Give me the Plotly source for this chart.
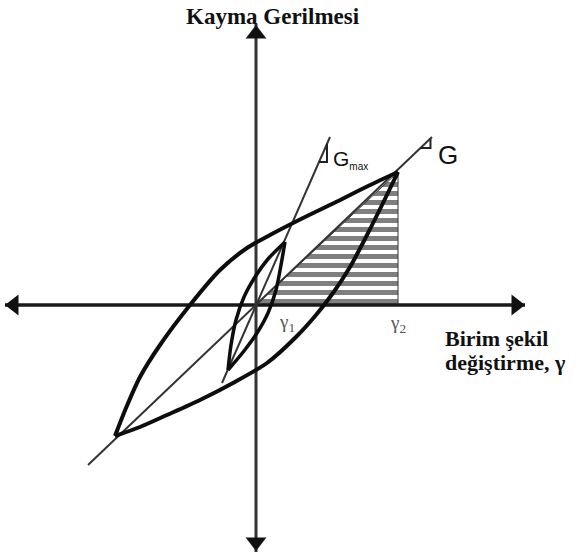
import plotly.graph_objects as go

# all coordinates are relative to the origin of the diagram (1 unit = 1 px)
# big hysteresis loop (gamma2 cycle)
big_upper_x = [-141, -130, -116, -96, -66, -36, -9, 14, 45, 80, 112, 142]
big_upper_y = [-131, -103, -72, -40, 0, 35, 57, 70, 86, 103, 119, 133]
big_lower_x = [142, 127, 111, 94, 77, 60, 40, 11, -23, -56, -89, -116, -141]
big_lower_y = [133, 102, 70, 38, 12, -10, -32, -58, -78, -95, -110, -122, -131]

# small loop (gamma1 cycle)
small_left_x = [-28, -25, -20, -12, -1, 12, 29]
small_left_y = [-65, -40, -15, 8, 28, 46, 63]
small_right_x = [29, 25, 20, 12, 1, -12, -28]
small_right_y = [63, 40, 15, -8, -28, -46, -65]

# secant modulus lines
g_line_x = [-168, 176]
g_line_y = [-160, 168]
gmax_line_x = [-34, 74]
gmax_line_y = [-78, 168]

gamma1 = 31
gamma2 = 142
tau2 = 133

# axes
x_axis = [-251, 269]
y_axis = [-247, 281]

fig = go.Figure()

# hatched triangle: origin, gamma2 on axis, loop tip
fig.add_trace(go.Scatter(
    x=[0, gamma2, gamma2, 0], y=[0, 0, tau2, 0],
    mode="lines", fill="toself", fillcolor="rgba(0,0,0,0)",
    fillpattern=dict(shape="-", size=9, solidity=0.55, fgcolor="#000", bgcolor="white"),
    line=dict(color="#333", width=1), hoverinfo="skip"))

# axis lines
fig.add_trace(go.Scatter(x=x_axis, y=[0, 0], mode="lines",
                         line=dict(color="#1a1a1a", width=3.5), hoverinfo="skip"))
fig.add_trace(go.Scatter(x=[0, 0], y=y_axis, mode="lines",
                         line=dict(color="#333", width=3), hoverinfo="skip"))
# arrowheads
fig.add_trace(go.Scatter(
    x=[x_axis[0] + 9, x_axis[1] - 9, 0, 0],
    y=[0, 0, y_axis[1] - 10, y_axis[0] + 10],
    mode="markers",
    marker=dict(symbol=["triangle-left", "triangle-right", "triangle-up", "triangle-down"],
                size=18, color="#111", line=dict(width=0)),
    hoverinfo="skip"))

# G and Gmax lines
fig.add_trace(go.Scatter(x=g_line_x, y=g_line_y, mode="lines",
                         line=dict(color="#333", width=2), hoverinfo="skip"))
fig.add_trace(go.Scatter(x=gmax_line_x, y=gmax_line_y, mode="lines",
                         line=dict(color="#333", width=2), hoverinfo="skip"))

# slope marks near line ends
g_slope = g_line_y[1] / g_line_x[1]
gm_slope = gmax_line_y[1] / gmax_line_x[1]
for slope, y0, dx in [(g_slope, 157, 10), (gm_slope, 143, 8)]:
    x0 = y0 / slope
    fig.add_trace(go.Scatter(
        x=[x0, x0 + dx, x0 + dx], y=[y0, y0, (x0 + dx) * slope],
        mode="lines", line=dict(color="#222", width=2), hoverinfo="skip"))

# loops
for xs, ys, w in [(big_upper_x, big_upper_y, 4), (big_lower_x, big_lower_y, 4),
                  (small_left_x, small_left_y, 3.5), (small_right_x, small_right_y, 3.5)]:
    fig.add_trace(go.Scatter(x=xs, y=ys, mode="lines",
                             line=dict(color="#0d0d0d", width=w, shape="spline", smoothing=0.8),
                             hoverinfo="skip"))

title_font = dict(family="Liberation Serif", size=23, color="#111")
label_font = dict(family="Liberation Serif", size=22, color="#111")
fig.add_annotation(x=17, y=289, text="<b>Kayma Gerilmesi</b>", showarrow=False,
                   font=title_font)
fig.add_annotation(x=187, y=-33, text="<b>Birim şekil</b>", showarrow=False,
                   xanchor="left", font=label_font)
fig.add_annotation(x=187, y=-57, text="<b>değiştirme, γ</b>", showarrow=False,
                   xanchor="left", font=label_font)
fig.add_annotation(x=gamma1, y=-18, text="γ<sub>1</sub>", showarrow=False,
                   font=dict(family="Liberation Serif", size=19, color="#555"))
fig.add_annotation(x=gamma2, y=-19, text="γ<sub>2</sub>", showarrow=False,
                   font=dict(family="Liberation Serif", size=19, color="#555"))
fig.add_annotation(x=180, y=150, text="G", showarrow=False, xanchor="left",
                   font=dict(family="Liberation Sans", size=26, color="#111"))
fig.add_annotation(x=75, y=146,
                   text="G<sub><span style='font-size:10px'>max</span></sub>",
                   showarrow=False, xanchor="left",
                   font=dict(family="Liberation Sans", size=21, color="#111"))

fig.update_layout(
    width=581, height=554,
    margin=dict(l=0, r=0, t=0, b=0),
    paper_bgcolor="white", plot_bgcolor="white",
    showlegend=False,
    xaxis=dict(range=[-256, 325], visible=False, fixedrange=True),
    yaxis=dict(range=[-249, 305], visible=False, fixedrange=True),
)

# drop the default body margin so the figure sits at the window corner
fig.write_html("out.html", config={"displayModeBar": False},
               post_script="document.body.style.margin='0px';")
